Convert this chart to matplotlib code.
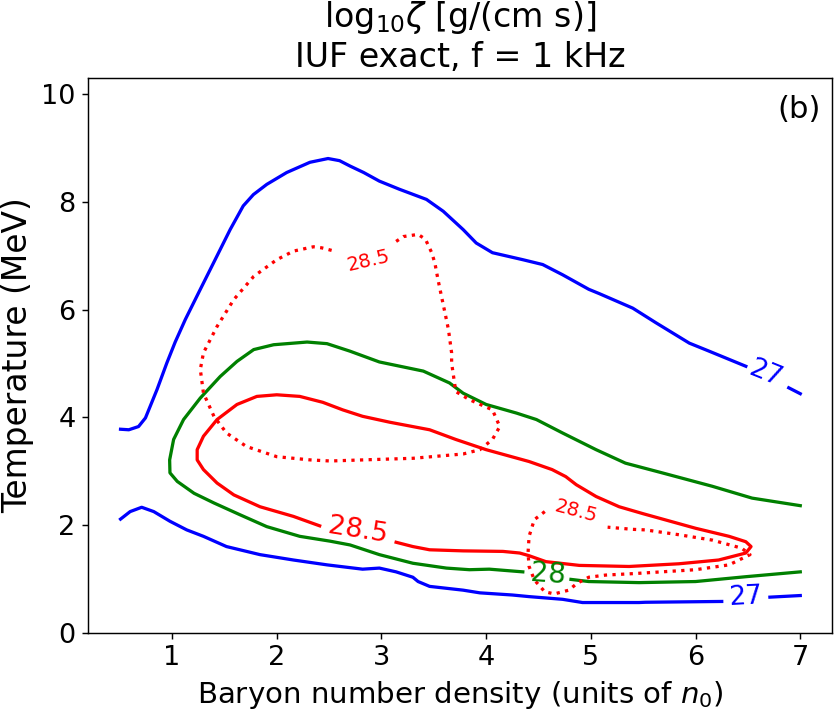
import matplotlib
matplotlib.use("Agg")
import matplotlib.pyplot as plt

# ---- data (x: n/n0, y: T in MeV) ----
# log10 zeta = 27 (blue), upper branch, split at the label
blue_hi_x = [0.508, 0.587, 0.68, 0.746, 0.79, 0.857, 0.95, 1.03, 1.127, 1.27, 1.396,
             1.555, 1.68, 1.777, 1.905, 2.095, 2.317, 2.49, 2.60, 2.70, 2.83, 2.98, 3.17,
             3.43, 3.59, 3.78, 3.905, 4.06, 4.35, 4.54, 4.73, 4.98, 5.08, 5.40, 5.62, 5.94,
             6.13, 6.48]
blue_hi_y = [3.78, 3.77, 3.83, 3.99, 4.20, 4.52, 5.01, 5.40, 5.82, 6.38, 6.87,
             7.49, 7.93, 8.14, 8.33, 8.55, 8.74, 8.81, 8.77, 8.67, 8.55, 8.39, 8.24,
             8.05, 7.83, 7.49, 7.24, 7.06, 6.93, 6.84, 6.65, 6.38, 6.30, 6.03, 5.76, 5.38,
             5.23, 4.95]
blue_hi2_x = [6.89, 7.0]
blue_hi2_y = [4.55, 4.44]

# log10 zeta = 27 (blue), lower branch
blue_lo_x = [0.508, 0.60, 0.71, 0.825, 0.98, 1.14, 1.30, 1.52, 1.84, 2.16, 2.48, 2.82, 2.98,
             3.14, 3.30, 3.35, 3.46, 3.78, 3.94, 4.25, 4.41, 4.73, 4.92, 5.46, 5.52, 6.25]
blue_lo_y = [2.11, 2.25, 2.33, 2.25, 2.07, 1.91, 1.79, 1.60, 1.45, 1.35, 1.26, 1.18, 1.20,
             1.13, 1.03, 0.95, 0.86, 0.79, 0.74, 0.70, 0.67, 0.62, 0.56, 0.56, 0.565, 0.58]
blue_lo2_x = [6.71, 7.0]
blue_lo2_y = [0.66, 0.69]

# log10 zeta = 28 (green)
green_x = [7.0, 6.54, 6.16, 5.68, 5.33, 5.05, 4.73, 4.48, 4.29, 4.0, 3.78, 3.65, 3.40, 2.98,
           2.70, 2.48, 2.29, 1.97, 1.78, 1.62, 1.46, 1.27, 1.11, 1.015, 0.977, 0.98, 1.05,
           1.21, 1.40, 1.65, 1.905, 2.22, 2.51, 2.70, 2.98, 3.30, 3.62, 3.84, 4.03, 4.35]
green_y = [2.36, 2.50, 2.72, 2.97, 3.15, 3.40, 3.71, 3.96, 4.08, 4.24, 4.45, 4.64, 4.86, 5.03,
           5.23, 5.37, 5.40, 5.35, 5.26, 5.04, 4.76, 4.36, 3.96, 3.59, 3.21, 2.97, 2.81,
           2.59, 2.41, 2.19, 1.97, 1.79, 1.70, 1.63, 1.45, 1.29, 1.20, 1.17, 1.18, 1.13]
green2_x = [4.81, 4.98, 5.46, 6.0, 6.48, 7.0]
green2_y = [0.99, 0.95, 0.93, 0.95, 1.04, 1.13]

# log10 zeta = 28.5 (red, solid)
red_x = [2.41, 2.16, 1.84, 1.59, 1.43, 1.30, 1.24, 1.24, 1.30, 1.43, 1.62, 1.81, 2.0, 2.22,
         2.44, 2.63, 2.82, 3.08, 3.46, 3.71, 4.0, 4.41, 4.63, 4.76, 4.86, 5.05, 5.27, 5.50,
         6.0, 6.32, 6.48, 6.53, 6.48, 6.22, 5.84, 5.365, 4.89, 4.57, 4.41, 4.32, 4.16,
         3.78, 3.46, 3.30, 3.14]
red_y = [1.985, 2.16, 2.34, 2.56, 2.78, 3.03, 3.21, 3.40, 3.65, 3.96, 4.24, 4.39, 4.42, 4.39,
         4.28, 4.14, 4.02, 3.91, 3.77, 3.59, 3.40, 3.18, 3.03, 2.90, 2.75, 2.53, 2.34, 2.21,
         1.94, 1.79, 1.69, 1.60, 1.48, 1.35, 1.28, 1.23, 1.25, 1.32, 1.43, 1.48, 1.51,
         1.52, 1.54, 1.60, 1.68]

# log10 zeta = 28.5 (red, dotted), large loop
dot1_x = [3.14, 3.21, 3.35, 3.42, 3.48, 3.51, 3.54, 3.57, 3.62, 3.64, 3.67, 3.67, 3.71, 3.84,
          4.06, 4.13, 4.06, 3.94, 3.78, 3.30, 2.82, 2.51, 2.32, 2.0, 1.71, 1.52, 1.40, 1.30,
          1.27, 1.30, 1.43, 1.59, 1.78, 2.0, 2.16, 2.35, 2.43, 2.57]
dot1_y = [7.27, 7.36, 7.40, 7.31, 7.06, 6.87, 6.56, 6.28, 5.82, 5.63, 5.20, 5.01, 4.48, 4.33,
          4.14, 3.83, 3.59, 3.40, 3.32, 3.24, 3.21, 3.19, 3.21, 3.27, 3.46, 3.71, 4.02, 4.45,
          4.89, 5.20, 5.69, 6.19, 6.62, 6.93, 7.09, 7.17, 7.15, 7.08]

# log10 zeta = 28.5 (red, dotted), small loop
dot2_x = [4.56, 4.46, 4.41, 4.40, 4.41, 4.46, 4.56, 4.65, 4.79, 4.87, 4.98, 5.14, 5.43, 6.0,
          6.32, 6.52, 6.44, 6.16, 5.84, 5.52, 5.40, 5.16]
dot2_y = [2.25, 2.10, 1.79, 1.48, 1.23, 0.98, 0.76, 0.72, 0.79, 0.92, 1.03, 1.07, 1.10, 1.17,
          1.26, 1.45, 1.57, 1.72, 1.82, 1.91, 1.92, 1.96]

# contour labels: text, x, y, rotation, colour, size (pt)
lab_text = ["27", "27", "28", "28.5", "28.5", "28.5"]
lab_x = [6.665, 6.476, 4.59, 2.775, 2.88, 4.86]
lab_y = [4.81, 0.655, 1.09, 1.90, 6.91, 2.26]
lab_rot = [-22, 3, -4, -9, 13, -15]
lab_col = ["blue", "blue", "green", "red", "red", "red"]
lab_size = [14.6, 14.6, 15.4, 15.0, 10.8, 10.8]

x_ticks = [1, 2, 3, 4, 5, 6, 7]
y_ticks = [0, 2, 4, 6, 8, 10]

DPI = 130
fig = plt.figure(figsize=(840 / DPI, 714 / DPI), dpi=DPI)
ax = fig.add_axes([0.1051, 0.1139, 0.885, 0.7764])

lw = 1.8
ax.plot(blue_hi_x, blue_hi_y, color="blue", lw=lw)
ax.plot(blue_hi2_x, blue_hi2_y, color="blue", lw=lw)
ax.plot(blue_lo_x, blue_lo_y, color="blue", lw=lw)
ax.plot(blue_lo2_x, blue_lo2_y, color="blue", lw=lw)
ax.plot(green_x, green_y, color="green", lw=lw)
ax.plot(green2_x, green2_y, color="green", lw=lw)
ax.plot(red_x, red_y, color="red", lw=lw)
ax.plot(dot1_x, dot1_y, color="red", lw=lw, linestyle=":")
ax.plot(dot2_x, dot2_y, color="red", lw=lw, linestyle=":")

for t, x, y, r, c, s in zip(lab_text, lab_x, lab_y, lab_rot, lab_col, lab_size):
    ax.text(x, y, t, color=c, fontsize=s, rotation=r, rotation_mode="anchor",
            ha="center", va="center")

ax.set_xlim(0.2, 7.3)
ax.set_ylim(0, 10.3)
ax.set_xticks(x_ticks)
ax.set_yticks(y_ticks)
ax.tick_params(labelsize=15)
ax.set_xlabel("Baryon number density (units of $n_0$)", fontsize=16.2)
ax.set_ylabel("Temperature (MeV)", fontsize=18.2)
ax.set_title("log$_{10}\\zeta$ [g/(cm s)]\nIUF exact, f = 1 kHz", fontsize=18.4)
ax.text(0.956, 0.943, "(b)", transform=ax.transAxes, fontsize=17, ha="center", va="center")

fig.savefig("out.png", dpi=DPI)
